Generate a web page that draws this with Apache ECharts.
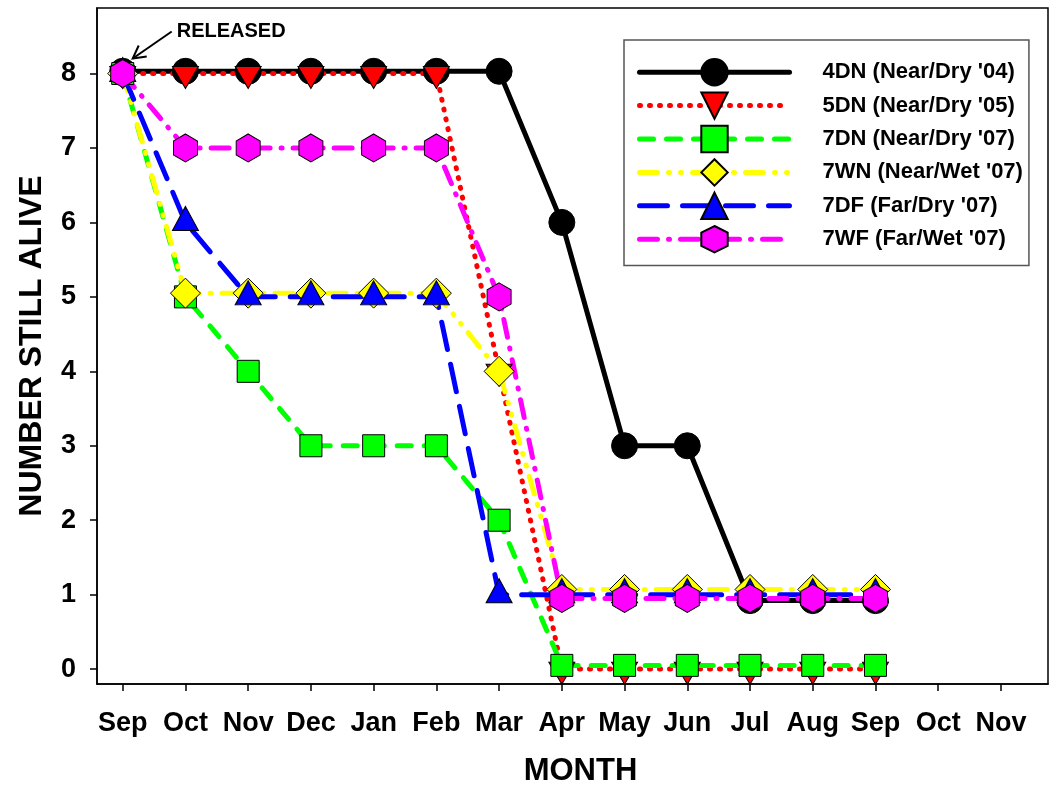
<!DOCTYPE html>
<html lang="en">
<head>
    <meta charset="UTF-8">
    <title>Number still alive</title>
    <script type="text/javascript" src="https://cdn.jsdelivr.net/npm/echarts@6/dist/echarts.min.js"></script>
</head>
<body style="margin:0">
    <div id="container" style="width:1050px;height:792px"></div>

    <script type="text/javascript">
        // month labels along the x axis (two seasons)
        var months = ['Sep', 'Oct', 'Nov', 'Dec', 'Jan', 'Feb', 'Mar', 'Apr', 'May', 'Jun', 'Jul', 'Aug', 'Sep', 'Oct', 'Nov'];
        var yTicks = [0, 1, 2, 3, 4, 5, 6, 7, 8];

        var names = ["4DN (Near/Dry '04)", "5DN (Near/Dry '05)", "7DN (Near/Dry '07)",
                     "7WN (Near/Wet '07)", "7DF (Far/Dry '07)", "7WF (Far/Wet '07)"];

        // values as plotted (small offsets in the original keep lines apart)
        var dn4 = [8.03, 8.03, 8.03, 8.03, 8.03, 8.03, 8.03, 6, 3, 3, 0.92, 0.92, 0.92];
        var dn5 = [8, 8, 8, 8, 8, 8, 4, 0, 0, 0, 0, 0, 0];
        var dn7 = [8, 5, 4, 3, 3, 3, 2, 0.05, 0.05, 0.05, 0.05, 0.05, 0.05];
        var wn7 = [8, 5.05, 5.05, 5.05, 5.05, 5.05, 4, 1.07, 1.07, 1.07, 1.07, 1.07, 1.07];
        var df7 = [8, 6, 5, 5, 5, 5, 1, 1, 1, 1, 1, 1, 1];
        var wf7 = [8, 7, 7, 7, 7, 7, 5, 0.95, 0.95, 0.95, 0.95, 0.95, 0.95];

        var FONT = 'Liberation Sans, Arial, sans-serif';
        var hexagon = 'path://M0,-1 L0.866,-0.5 L0.866,0.5 L0,1 L-0.866,0.5 L-0.866,-0.5 Z';
        var downTri = 'path://M0,0 L2,0 L1,1.7 Z';

        function pts(arr) {
            return arr.map(function (v, i) { return [i, v]; });
        }

        function line(name, data, color, dash, symbol, size, extra) {
            var s = {
                name: name,
                type: 'line',
                data: pts(data),
                symbol: symbol,
                symbolSize: size,
                lineStyle: { color: color, width: 5, type: dash, cap: 'round' },
                itemStyle: { color: color, borderColor: '#000', borderWidth: 1 },
                emphasis: { disabled: true },
                animation: false
            };
            for (var k in extra) s[k] = extra[k];
            return s;
        }

        var dom = document.getElementById('container');
        var myChart = echarts.init(dom);

        var tickIdx = months.map(function (m, i) { return i; });

        var option = {
            backgroundColor: '#fff',
            grid: {
                left: 97, top: 8, right: 2, bottom: 105,
                show: true, borderColor: '#000', borderWidth: 1.5
            },
            legend: {
                data: names,
                orient: 'vertical',
                left: 624, top: 40,
                padding: [18, 6, 12, 13],
                itemWidth: 150, itemHeight: 33, itemGap: 5,
                backgroundColor: '#fff',
                borderColor: '#555', borderWidth: 1.5,
                lineStyle: { width: 5, cap: 'round' },
                textStyle: { fontFamily: FONT, fontWeight: 'bold', fontSize: 22, color: '#000', padding: [0, 0, 0, 28] }
            },
            xAxis: {
                type: 'value',
                min: -0.41, max: 14.75,
                splitLine: { show: false },
                axisLine: { show: true, onZero: false, lineStyle: { color: '#000', width: 1.5 } },
                axisTick: { show: true, inside: false, length: 7, customValues: tickIdx, lineStyle: { color: '#000', width: 1.5 } },
                axisLabel: {
                    customValues: tickIdx,
                    formatter: function (v) { return months[Math.round(v)]; },
                    margin: 26,
                    fontFamily: FONT, fontWeight: 'bold', fontSize: 27, color: '#000'
                },
                name: 'MONTH',
                nameLocation: 'middle',
                nameGap: 72,
                nameTextStyle: { fontFamily: FONT, fontWeight: 'bold', fontSize: 31, color: '#000', padding: [0, 0, 0, 16] }
            },
            yAxis: {
                type: 'value',
                min: -0.2, max: 8.88,
                splitLine: { show: false },
                axisLine: { show: true, onZero: false, lineStyle: { color: '#000', width: 1.5 } },
                axisTick: { show: true, inside: false, length: 7, customValues: yTicks, lineStyle: { color: '#000', width: 1.5 } },
                axisLabel: {
                    customValues: yTicks,
                    margin: 21,
                    fontFamily: FONT, fontWeight: 'bold', fontSize: 27, color: '#000'
                },
                name: 'NUMBER STILL ALIVE',
                nameLocation: 'middle',
                nameGap: 49,
                nameTextStyle: { fontFamily: FONT, fontWeight: 'bold', fontSize: 32, color: '#000' }
            },
            series: [
                line(names[0], dn4, '#000000', 'solid', 'circle', 26),
                line(names[1], dn5, '#ff0000', [1, 9], downTri, [26, 22], { symbolOffset: [0, 4] }),
                line(names[2], dn7, '#00ff00', [14, 13], 'rect', 22),
                line(names[3], wn7, '#ffff00', [18, 11, 1, 11, 1, 11], 'diamond', 30),
                line(names[4], df7, '#0000ff', [28, 15], 'triangle', [26, 24], { symbolOffset: [0, -4] }),
                line(names[5], wf7, '#ff00ff', [18, 11, 1, 11], hexagon, [24, 28])
            ]
        };

        myChart.setOption(option);

        // "RELEASED" note with arrow pointing at the release point
        var p = myChart.convertToPixel({ gridIndex: 0 }, [0, 8]);
        var tip = [p[0] + 10, p[1] - 15];
        var tail = [tip[0] + 39, tip[1] - 27];
        myChart.setOption({
            graphic: [
                { type: 'polyline', shape: { points: [tail, tip] }, style: { stroke: '#000', lineWidth: 2, fill: null }, z: 100 },
                { type: 'polyline', shape: { points: [[tip[0] + 6, tip[1] - 13], tip, [tip[0] + 14, tip[1] - 2]] }, style: { stroke: '#000', lineWidth: 2, fill: null }, z: 100 },
                { type: 'text', left: tail[0] + 5, top: tail[1] - 10, style: { text: 'RELEASED', fontFamily: FONT, fontWeight: 'bold', fontSize: 20, fill: '#000' }, z: 100 }
            ]
        });
    </script>
</body>
</html>
